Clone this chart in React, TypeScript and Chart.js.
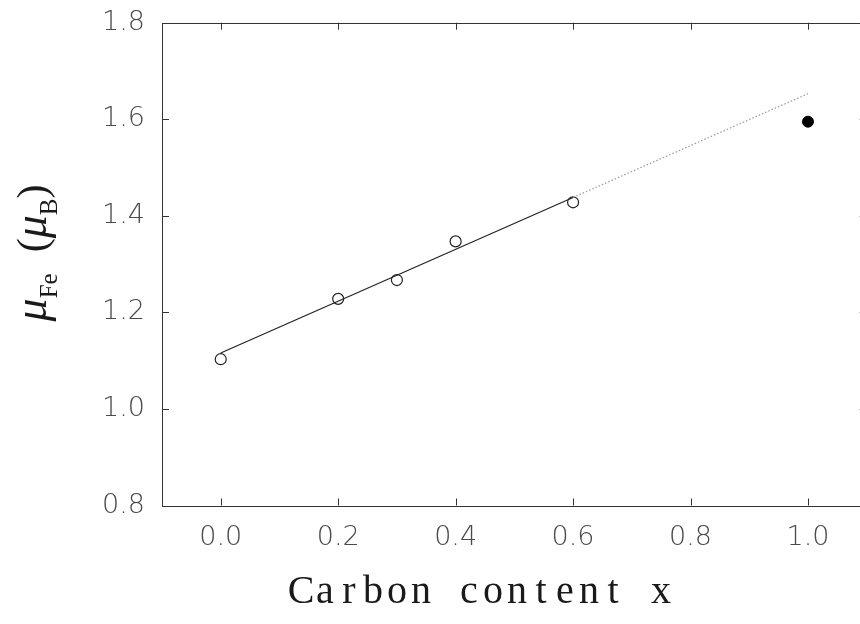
import React, { useEffect, useRef } from "react";
import { Chart, registerables } from "chart.js";

Chart.register(...registerables);

const openX = [0, 0.2, 0.3, 0.4, 0.6];
const openY = [1.103, 1.228, 1.267, 1.347, 1.428];
const filledX = [1.0];
const filledY = [1.595];
const fitSolidX = [0, 0.6];
const fitSolidY = [1.116, 1.438];
const fitDotX = [0.6, 1.0];
const fitDotY = [1.438, 1.653];
const xTicks = [0, 0.2, 0.4, 0.6, 0.8, 1.0];
const yTicks = [0.8, 1.0, 1.2, 1.4, 1.6, 1.8];
const xTitle = "Carbon content x";

const zip = (xs: number[], ys: number[]) => xs.map((x, i) => ({ x, y: ys[i] }));

const framePlugin = {
  id: "frame",
  afterDraw(chart: any) {
    const { ctx, chartArea: a, scales } = chart;
    const xs = scales.x;
    const ys = scales.y;
    ctx.save();
    ctx.strokeStyle = "#333";
    ctx.lineWidth = 1;
    ctx.strokeRect(Math.round(a.left) + 0.5, Math.round(a.top) + 0.5, Math.round(a.right - a.left), Math.round(a.bottom - a.top));
    const tl = 7;
    ctx.beginPath();
    xTicks.forEach((v) => {
      const px = Math.round(xs.getPixelForValue(v)) + 0.5;
      ctx.moveTo(px, a.bottom);
      ctx.lineTo(px, a.bottom - tl);
      ctx.moveTo(px, a.top);
      ctx.lineTo(px, a.top + tl);
    });
    yTicks.forEach((v) => {
      const py = Math.round(ys.getPixelForValue(v)) + 0.5;
      ctx.moveTo(a.left, py);
      ctx.lineTo(a.left + tl, py);
      ctx.moveTo(a.right, py);
      ctx.lineTo(a.right - tl, py);
    });
    ctx.stroke();

    // x title, drawn as fixed-pitch serif text
    ctx.fillStyle = "#1a1a1a";
    ctx.font = "40px 'Liberation Serif'";
    ctx.textAlign = "center";
    ctx.textBaseline = "alphabetic";
    const pitch = 24;
    const startX = 481 - (xTitle.length * pitch) / 2;
    for (let i = 0; i < xTitle.length; i++) {
      ctx.fillText(xTitle[i], startX + pitch * (i + 0.5), 603);
    }

    // y title
    ctx.translate(46, 253);
    ctx.rotate(-Math.PI / 2);
    const big = "italic 46px 'Liberation Serif'";
    const sub = "25px 'Liberation Serif'";
    const paren = "42px 'Liberation Serif'";
    const parts: [string, string, number][] = [
      ["μ", big, 0],
      ["Fe", sub, 11],
      ["  ", paren, 0],
      ["(", paren, 0],
      ["μ", big, 0],
      ["B", sub, 11],
      [")", paren, 0],
    ];
    let total = 0;
    parts.forEach(([t, f]) => {
      ctx.font = f;
      total += ctx.measureText(t).width;
    });
    let cx = -total / 2;
    ctx.textAlign = "left";
    parts.forEach(([t, f, dy]) => {
      ctx.font = f;
      ctx.fillText(t, cx, dy);
      cx += ctx.measureText(t).width;
    });
    ctx.restore();
  },
};

export default function App() {
  const ref = useRef<HTMLCanvasElement>(null);
  useEffect(() => {
    if (!ref.current) return;
    const tickFont = { family: "'DejaVu Sans'", size: 27, weight: 200 as any };
    const chart = new Chart(ref.current, {
      type: "scatter",
      data: {
        datasets: [
          {
            type: "line",
            data: zip(fitSolidX, fitSolidY),
            borderColor: "#222",
            borderWidth: 1.2,
            pointRadius: 0,
            showLine: true,
          } as any,
          {
            type: "line",
            data: zip(fitDotX, fitDotY),
            borderColor: "#999",
            borderWidth: 1.2,
            borderDash: [1.5, 2],
            pointRadius: 0,
            showLine: true,
          } as any,
          {
            data: zip(openX, openY),
            pointRadius: 5.5,
            pointBackgroundColor: "#fff",
            pointBorderColor: "#222",
            pointBorderWidth: 1.2,
          },
          {
            data: zip(filledX, filledY),
            pointRadius: 5.5,
            pointBackgroundColor: "#000",
            pointBorderColor: "#000",
            pointBorderWidth: 1,
          },
        ],
      },
      options: {
        animation: false,
        responsive: false,
        events: [],
        layout: { padding: { left: 0, right: 13.3, top: 22.7, bottom: 0 } },
        plugins: { legend: { display: false }, tooltip: { enabled: false } },
        scales: {
          x: {
            type: "linear",
            min: -0.1,
            max: 1.1,
            afterBuildTicks: (s: any) => {
              s.ticks = xTicks.map((v) => ({ value: v }));
            },
            afterFit: (s: any) => {
              s.height = 118.5;
              s.paddingLeft = 0;
              s.paddingRight = 0;
            },
            grid: { display: false, drawTicks: false },
            border: { display: false },
            ticks: {
              font: tickFont,
              color: "#4a4a4a",
              padding: 16,
              callback: (v: any) => Number(v).toFixed(1),
              maxRotation: 0,
            },
          },
          y: {
            type: "linear",
            min: 0.8,
            max: 1.8,
            afterBuildTicks: (s: any) => {
              s.ticks = yTicks.map((v) => ({ value: v }));
            },
            afterFit: (s: any) => {
              s.width = 162;
              s.paddingTop = 0;
              s.paddingBottom = 0;
            },
            grid: { display: false, drawTicks: false },
            border: { display: false },
            ticks: {
              font: tickFont,
              color: "#4a4a4a",
              padding: 17,
              callback: (v: any) => Number(v).toFixed(1),
            },
          },
        },
      },
      plugins: [framePlugin],
    });
    return () => chart.destroy();
  }, []);
  return (
    <div style={{ position: "fixed", left: 0, top: 0, width: 860, height: 624, overflow: "hidden", background: "#fff" }}>
      <canvas ref={ref} width={880} height={624} style={{ display: "block", width: 880, height: 624 }} />
    </div>
  );
}
